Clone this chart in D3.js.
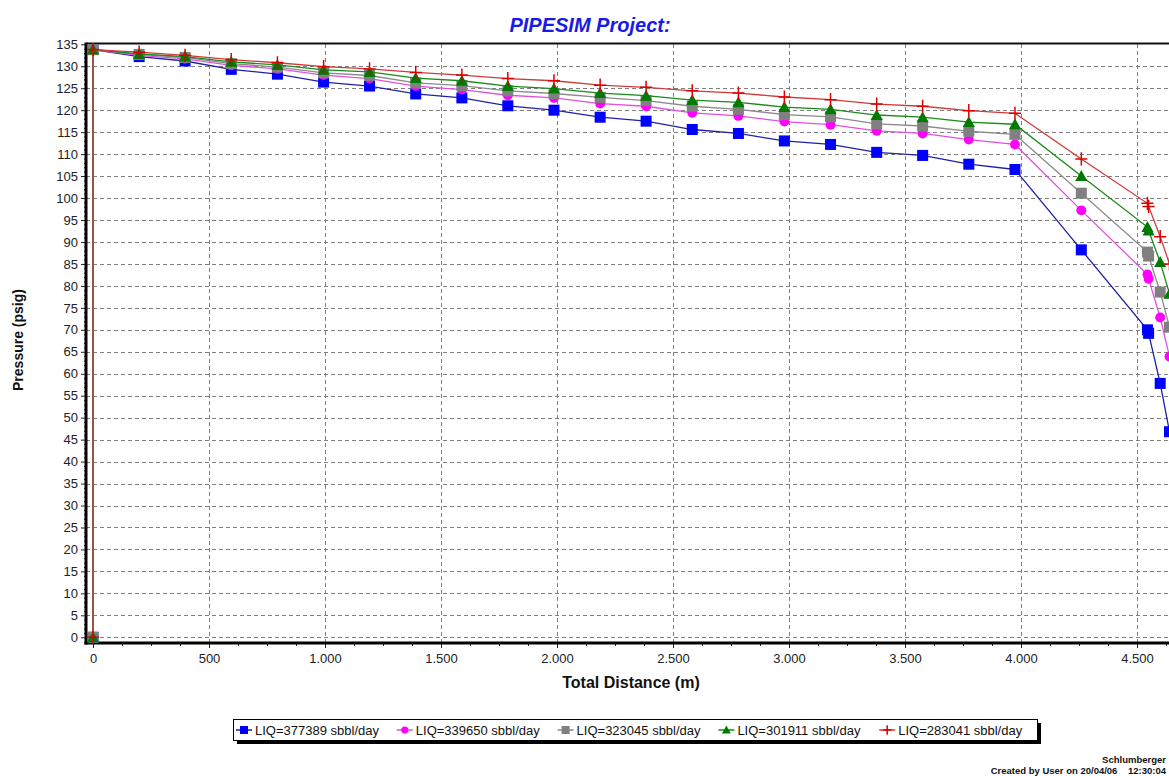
<!DOCTYPE html>
<html>
<head>
<meta charset="utf-8">
<script src="https://cdn.jsdelivr.net/npm/d3@7"></script>
<style>
  body { margin: 0; background: #fff; overflow: hidden; }
  svg { display: block; }
  text { font-family: "Liberation Sans", Arial, sans-serif; }
</style>
</head>
<body>
<svg id="chart" width="1169" height="776"></svg>
<script>
// Total distance along the pipeline (m) for every profile point
const distance = [0, 0, 199, 397, 596, 795, 994, 1192, 1391, 1590, 1788, 1987, 2186, 2384,
  2583, 2782, 2980, 3179, 3378, 3576, 3775, 3974, 4260, 4545, 4550, 4600, 4640];

// Pressure profiles (psig), one per liquid rate case
const p377389 = [0, 133.8, 132.2, 131.2, 129.3, 128.2, 126.4, 125.5, 123.7, 122.8, 121.0, 120.0, 118.4, 117.5,
  115.6, 114.7, 113.0, 112.2, 110.4, 109.7, 107.7, 106.5, 88.2, 70.0, 69.2, 57.8, 46.8];
const p339650 = [0, 133.8, 132.5, 131.7, 130.2, 129.4, 128.0, 127.2, 125.5, 124.7, 123.4, 122.8, 121.5, 120.9,
  119.4, 118.7, 117.4, 116.7, 115.3, 114.7, 113.3, 112.2, 97.2, 82.6, 81.6, 72.8, 63.9];
const p323045 = [0, 133.8, 132.7, 132.0, 130.6, 129.8, 128.5, 127.9, 126.2, 125.6, 124.4, 123.8, 122.9, 122.2,
  120.9, 120.2, 119.0, 118.5, 116.9, 116.4, 115.2, 114.5, 101.1, 87.7, 86.8, 78.6, 70.6];
const p301911 = [0, 133.8, 132.8, 132.2, 131.0, 130.3, 129.2, 128.7, 127.3, 126.7, 125.5, 124.9, 123.9, 123.3,
  122.3, 121.8, 120.7, 120.2, 118.9, 118.4, 117.3, 116.8, 105.0, 93.4, 92.6, 85.4, 78.2];
const p283041 = [0, 133.8, 133.2, 132.5, 131.5, 130.8, 129.9, 129.4, 128.6, 128.0, 127.2, 126.7, 125.7, 125.2,
  124.4, 123.9, 123.0, 122.4, 121.4, 120.9, 119.9, 119.3, 108.9, 98.8, 98.1, 91.2, 85.0];

const seriesNames = ["LIQ=377389 sbbl/day", "LIQ=339650 sbbl/day", "LIQ=323045 sbbl/day",
  "LIQ=301911 sbbl/day", "LIQ=283041 sbbl/day"];
const seriesValues = [p377389, p339650, p323045, p301911, p283041];

const yTicks = d3.range(0, 136, 5);
const xTicks = [0, 500, 1000, 1500, 2000, 2500, 3000, 3500, 4000, 4500];

// Styling per series: line colour, marker colour, marker shape
const styles = [
  { line: "#1f1fa8", fill: "#0000ff", shape: "square" },
  { line: "#e050e0", fill: "#ff00ff", shape: "circle" },
  { line: "#8a8a8a", fill: "#808080", shape: "square" },
  { line: "#1a8a1a", fill: "#007a00", shape: "triangle" },
  { line: "#d03a3a", fill: "#dd0000", shape: "plus" }
];

const svg = d3.select("#chart");
const W = 1169;
const plot = { left: 86, top: 43.5, bottom: 643, right: W + 10 };

const x = d3.scaleLinear().domain([0, 4500]).range([93, 1137]);
const y = d3.scaleLinear().domain([0, 135]).range([637.3, 44.3]);

// Title
svg.append("text")
  .attr("x", 590).attr("y", 32)
  .attr("text-anchor", "middle")
  .attr("font-size", 20).attr("font-weight", "bold").attr("font-style", "italic")
  .attr("fill", "#1a1ae6")
  .text("PIPESIM Project:");

// Grid
const grid = svg.append("g").attr("stroke", "#808080").attr("stroke-width", 1)
  .attr("stroke-dasharray", "4,3").attr("shape-rendering", "crispEdges");
yTicks.filter(v => v < 135).forEach(v => {
  grid.append("line").attr("x1", plot.left).attr("x2", W)
    .attr("y1", Math.round(y(v)) + 0.5).attr("y2", Math.round(y(v)) + 0.5);
});
xTicks.forEach(v => {
  grid.append("line").attr("y1", plot.top).attr("y2", plot.bottom)
    .attr("x1", Math.round(x(v)) + 0.5).attr("x2", Math.round(x(v)) + 0.5);
});

// Axes
const yAxis = d3.axisLeft(y).tickValues(yTicks).tickSize(5).tickPadding(3).tickFormat(d3.format("d"));
const gy = svg.append("g").attr("transform", `translate(${plot.left},0)`).call(yAxis);
gy.select(".domain").remove();
gy.selectAll("text").attr("font-size", 13).attr("fill", "#222")
  .style("font-family", '"Liberation Sans", Arial, sans-serif');
gy.selectAll("line").attr("stroke", "#222");

const yMinor = d3.axisLeft(y).tickValues(d3.range(0, 136, 1).filter(v => v % 5 !== 0)).tickSize(2).tickFormat("");
const gym = svg.append("g").attr("transform", `translate(${plot.left},0)`).call(yMinor);
gym.select(".domain").remove();
gym.selectAll("line").attr("stroke", "#222");

const fmtX = v => d3.format(",")(v).replace(/,/g, ".");
const xAxis = d3.axisBottom(x).tickValues(xTicks).tickSize(5).tickPadding(6).tickFormat(fmtX);
const gx = svg.append("g").attr("transform", `translate(0,${plot.bottom})`).call(xAxis);
gx.select(".domain").remove();
gx.selectAll("text").attr("font-size", 13).attr("fill", "#222")
  .style("font-family", '"Liberation Sans", Arial, sans-serif');
gx.selectAll("line").attr("stroke", "#222");

const xMinor = d3.axisBottom(x).tickValues(d3.range(0, 4700, 125).filter(v => v % 500 !== 0)).tickSize(3).tickFormat("");
const gxm = svg.append("g").attr("transform", `translate(0,${plot.bottom})`).call(xMinor);
gxm.select(".domain").remove();
gxm.selectAll("line").attr("stroke", "#222");

// Frame
svg.append("line").attr("x1", plot.left).attr("x2", W).attr("y1", plot.top).attr("y2", plot.top)
  .attr("stroke", "#111").attr("stroke-width", 2);
svg.append("line").attr("x1", plot.left).attr("x2", plot.left).attr("y1", plot.top - 1).attr("y2", plot.bottom + 1.5)
  .attr("stroke", "#000").attr("stroke-width", 3);
svg.append("line").attr("x1", plot.left - 1.5).attr("x2", W).attr("y1", plot.bottom).attr("y2", plot.bottom)
  .attr("stroke", "#000").attr("stroke-width", 3);

// Marker drawing
function marker(g, shape, fill, size) {
  const s = size;
  if (shape === "square") {
    g.append("rect").attr("x", -s / 2).attr("y", -s / 2).attr("width", s).attr("height", s).attr("fill", fill);
  } else if (shape === "circle") {
    g.append("circle").attr("r", s * 0.45).attr("fill", fill);
  } else if (shape === "triangle") {
    g.append("path").attr("d", `M0,${-s * 0.55}L${s * 0.55},${s * 0.45}L${-s * 0.55},${s * 0.45}Z`).attr("fill", fill);
  } else if (shape === "plus") {
    g.append("path").attr("d", `M${-s * 0.55},0H${s * 0.55}M0,${-s * 0.6}V${s * 0.6}`)
      .attr("stroke", fill).attr("stroke-width", 1.5).attr("fill", "none");
  }
}

// Series lines and markers
const line = d3.line().x((d, i) => x(distance[i])).y(d => y(d));
seriesValues.forEach((vals, k) => {
  const st = styles[k];
  const g = svg.append("g");
  g.append("path").datum(vals).attr("d", line)
    .attr("fill", "none").attr("stroke", st.line).attr("stroke-width", 1.3);
  vals.forEach((v, i) => {
    const m = g.append("g").attr("transform", `translate(${x(distance[i])},${y(v)})`);
    marker(m, st.shape, st.fill, 11);
  });
});

// Axis titles
svg.append("text")
  .attr("transform", "translate(23,340) rotate(-90)")
  .attr("text-anchor", "middle").attr("font-size", 14).attr("font-weight", "bold").attr("fill", "#111")
  .text("Pressure (psig)");
svg.append("text")
  .attr("x", 631).attr("y", 688)
  .attr("text-anchor", "middle").attr("font-size", 16).attr("font-weight", "bold").attr("fill", "#111")
  .text("Total Distance (m)");

// Legend
const lg = { x: 233, y: 719, w: 804, h: 21 };
svg.append("rect").attr("x", lg.x + 4).attr("y", lg.y + 4).attr("width", lg.w).attr("height", lg.h).attr("fill", "#000");
svg.append("rect").attr("x", lg.x + 0.5).attr("y", lg.y + 0.5).attr("width", lg.w).attr("height", lg.h)
  .attr("fill", "#fff").attr("stroke", "#000").attr("stroke-width", 1);
const itemW = lg.w / 5;
seriesNames.forEach((name, k) => {
  const st = styles[k];
  const gx0 = lg.x + 3 + k * itemW;
  const cy = lg.y + lg.h / 2 + 0.5;
  const g = svg.append("g");
  g.append("line").attr("x1", gx0).attr("x2", gx0 + 16).attr("y1", cy).attr("y2", cy)
    .attr("stroke", st.line).attr("stroke-width", 1.5);
  const m = g.append("g").attr("transform", `translate(${gx0 + 8},${cy})`);
  marker(m, st.shape, st.fill, 8);
  g.append("text").attr("x", gx0 + 19).attr("y", cy + 4.5)
    .attr("font-size", 13).attr("fill", "#111").text(name);
});

// Footer
svg.append("text").attr("x", 1166).attr("y", 763).attr("text-anchor", "end")
  .attr("font-size", 9.5).attr("font-weight", "bold")
  .attr("fill", "#111").text("Schlumberger");
svg.append("text").attr("x", 1166).attr("y", 774).attr("text-anchor", "end")
  .attr("font-size", 9.5).attr("font-weight", "bold")
  .attr("fill", "#111").attr("xml:space", "preserve").text("Created by User on 20/04/06    12:30:04");
</script>
</body>
</html>
